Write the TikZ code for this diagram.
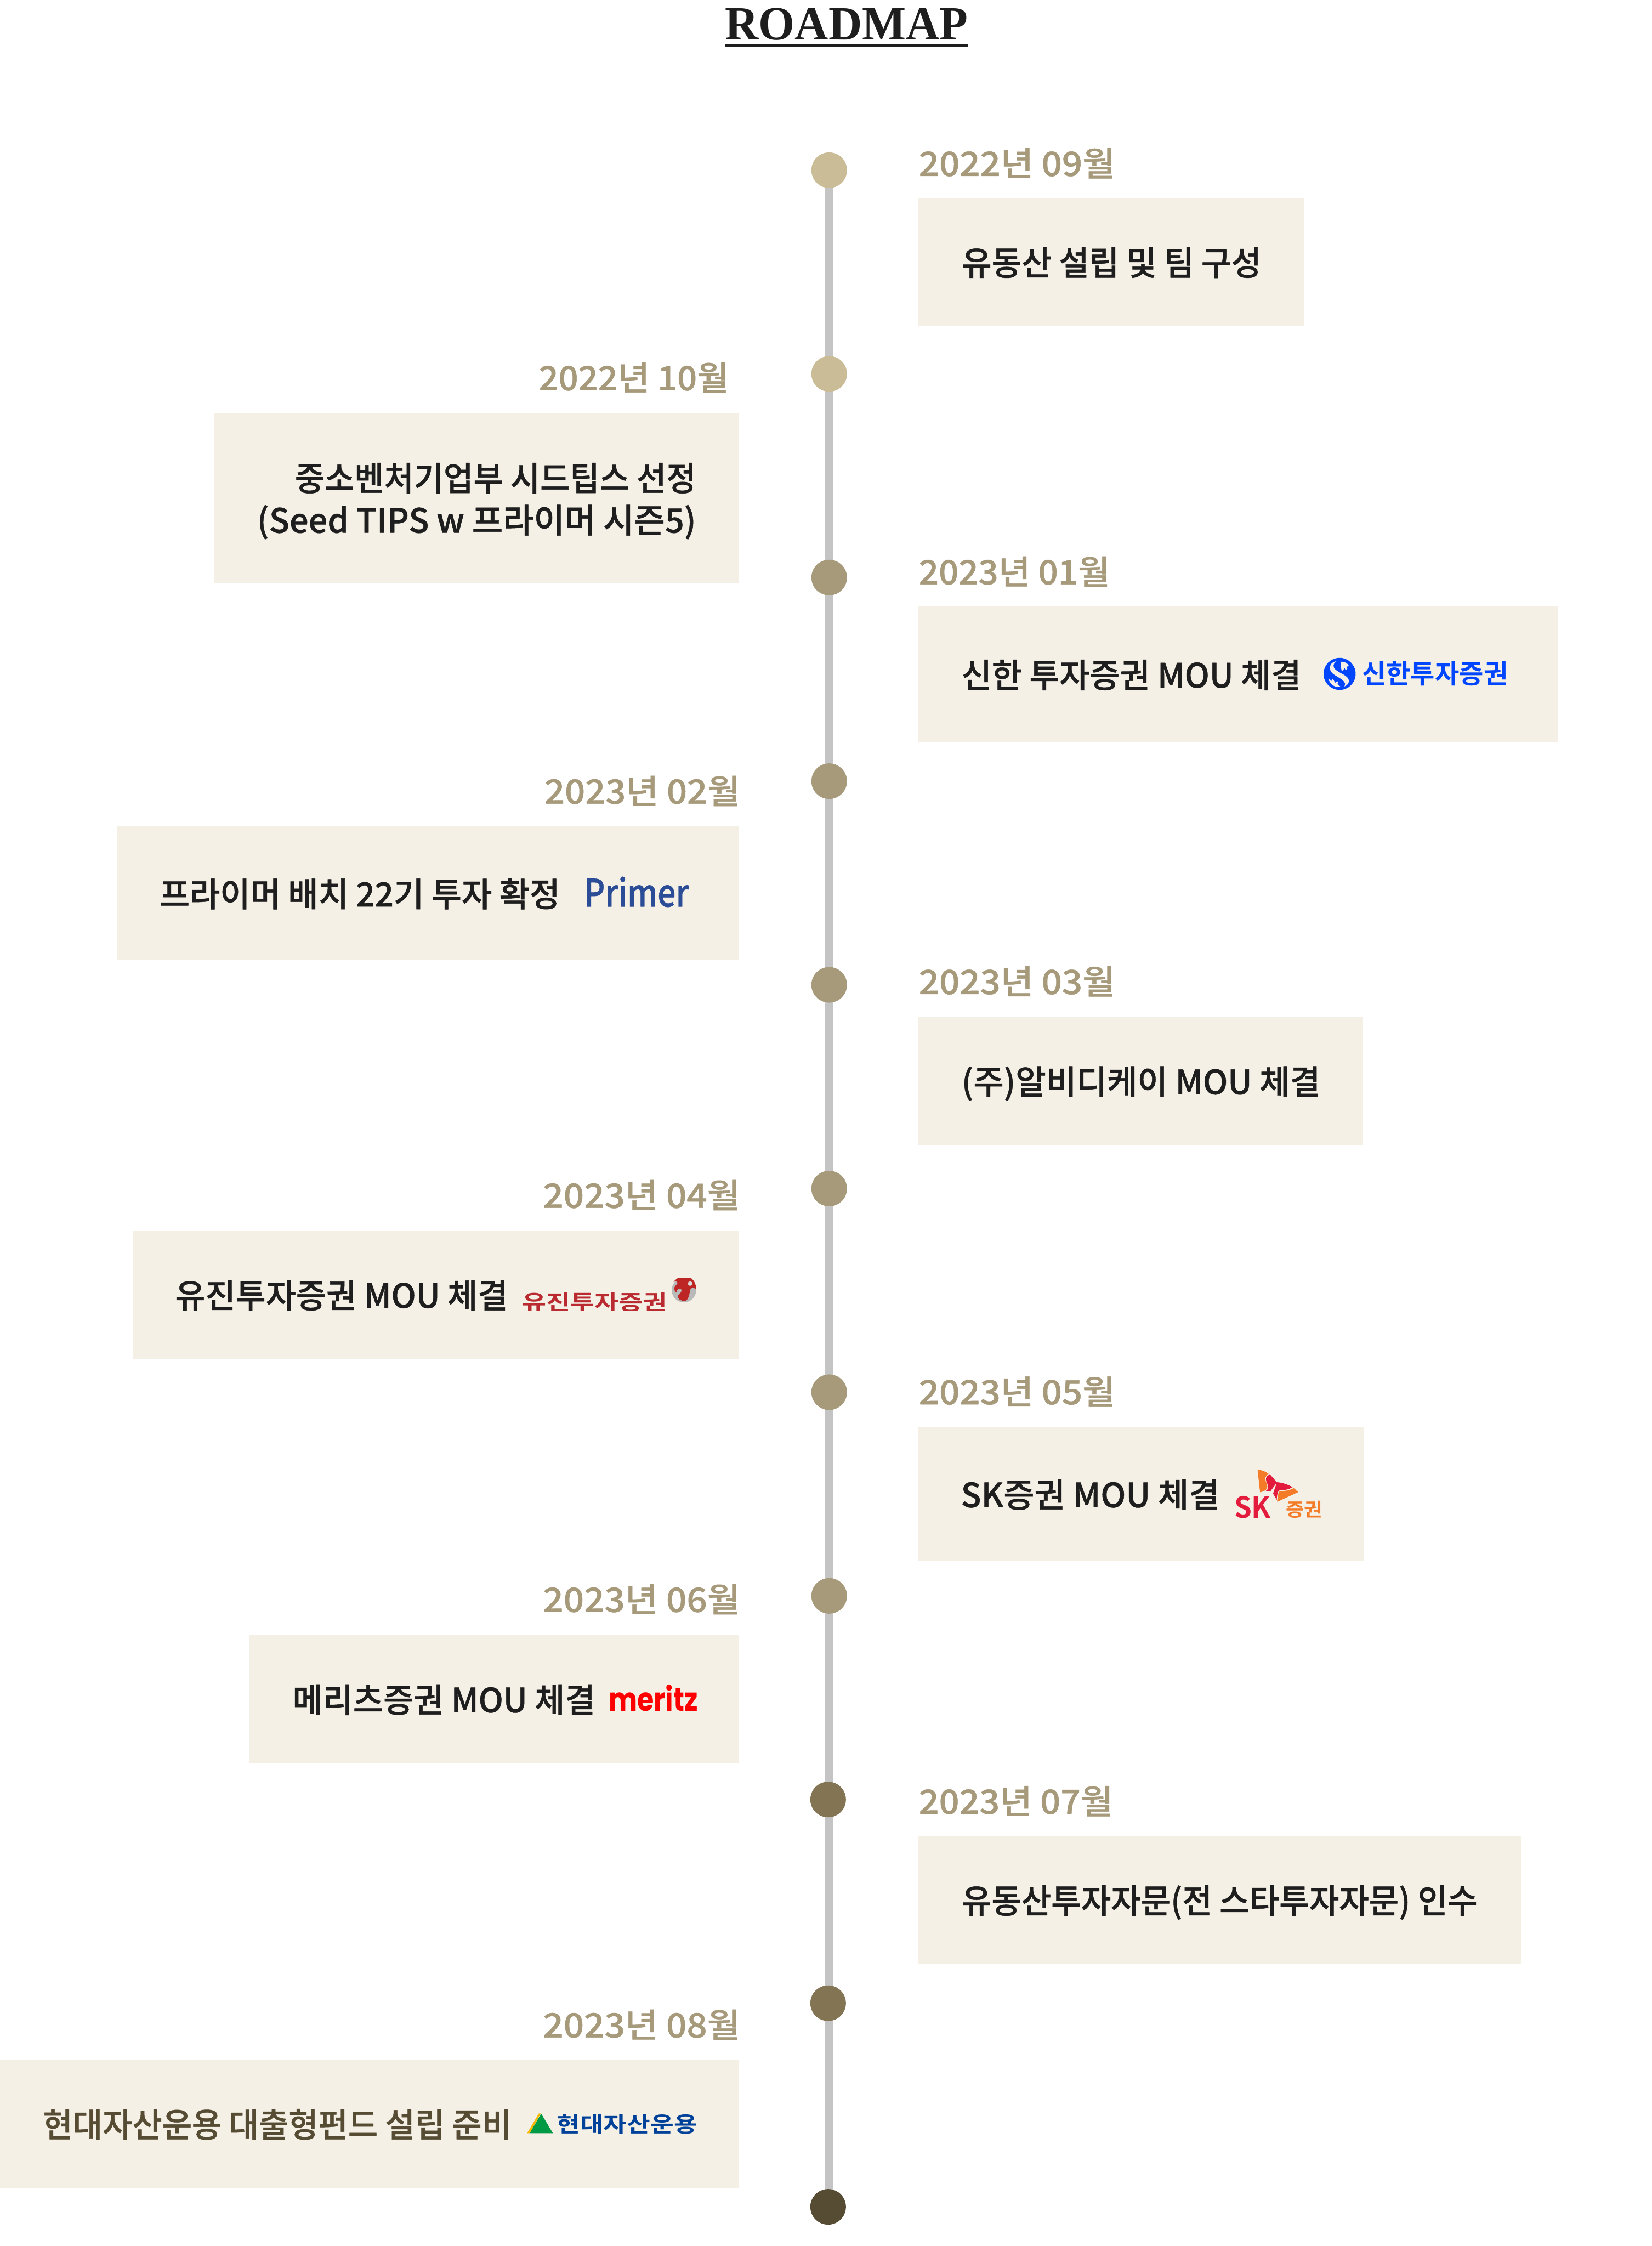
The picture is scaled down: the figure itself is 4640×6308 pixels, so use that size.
\documentclass[tikz,border=0pt]{standalone}
\usepackage{fontspec}
\usepackage{graphicx}
\newfontfamily\krm{Noto Sans CJK KR Medium}[FakeBold=0.8]
\newfontfamily\krb{Noto Sans CJK KR}[BoldFont={Noto Sans CJK KR Bold}]
\newfontfamily\ttl{Liberation Serif}
\newfontfamily\mrz{Poppins}
\definecolor{boxbg}{HTML}{F4F0E6}
\definecolor{datec}{HTML}{A69A7B}
\definecolor{inkc}{HTML}{1E1E1E}
\definecolor{lastc}{HTML}{564B33}
\definecolor{dotA}{HTML}{CBBC98}
\definecolor{dotB}{HTML}{A69A7B}
\definecolor{dotC}{HTML}{837553}
\definecolor{linec}{HTML}{C4C4C4}
\definecolor{shb}{HTML}{0046FF}
\definecolor{prb}{HTML}{2B4C96}
\definecolor{yjr}{HTML}{B92B30}
\definecolor{skr}{HTML}{E31B3C}
\definecolor{sko}{HTML}{F47B27}
\definecolor{hdb}{HTML}{00419A}
\definecolor{hdg}{HTML}{009A44}
\definecolor{hdy}{HTML}{F5B800}
\newcommand{\fitw}[2]{\resizebox{\dimexpr #1\dimexpr.25pt\relax\relax}{\height}{#2}}
\newcommand{\fs}[1]{\fontsize{\dimexpr #1\dimexpr.25pt\relax\relax}{\dimexpr #1\dimexpr.3pt\relax\relax}\selectfont}
\tikzset{
  boxfill/.style={fill=boxbg},
  dotn/.style={circle,inner sep=0pt,minimum size=25pt,fill=#1},
  txtL/.style={inner sep=0pt,anchor=base west,text=inkc,font=\krm\fs{94}},
  txtR/.style={inner sep=0pt,anchor=base east,text=inkc,font=\krm\fs{94}},
  dateL/.style={inner sep=0pt,anchor=base west,text=datec,font=\krm\fs{94}},
  dateR/.style={inner sep=0pt,anchor=base east,text=datec,font=\krm\fs{94}},
  logo/.style={inner sep=0pt,anchor=base west},
  spine/.style={draw=linec,line width=6pt}
}
\begin{document}
\begin{tikzpicture}[x=0.25pt,y=-0.25pt]
\useasboundingbox (0,0) rectangle (4640,6308);
\fill[white] (0,0) rectangle (4640,6308);
% title
\node[inner sep=0pt,anchor=base west,text=inkc,font=\ttl\bfseries\fs{134}] (title) at (2036,111) {\fitw{682}{ROADMAP}};
\fill[inkc] (2036,124) rectangle (2718,131);
% timeline
\coordinate (spinex) at (2328,0);
\foreach \n/\xx/\yy/\cc in {1/2329/478/dotA,2/2329/1050/dotA,3/2329/1622/dotB,4/2329/2194/dotB,5/2329/2766/dotB,6/2329/3338/dotB,7/2329/3910/dotB,8/2329/4482/dotB,9/2326/5054/dotC,10/2326/5626/dotC,11/2326/6198/lastc}
  \path[spine,draw=none] (\xx,\yy) coordinate (c\n);
\foreach \a/\b in {1/2,2/3,3/4,4/5,5/6,6/7,7/8,8/9,9/10,10/11}
  \draw[spine] (spinex |- c\a) -- (spinex |- c\b);
\foreach \n/\cc in {1/dotA,2/dotA,3/dotB,4/dotB,5/dotB,6/dotB,7/dotB,8/dotB,9/dotC,10/dotC,11/lastc}
  \node[dotn=\cc] (d\n) at (c\n) {};
% boxes
\fill[boxfill] (2580,556) rectangle (3664,914);
\fill[boxfill] (600,1159) rectangle (2076,1639);
\fill[boxfill] (2580,1704) rectangle (4375,2084);
\fill[boxfill] (328,2320) rectangle (2076,2696);
\fill[boxfill] (2580,2857) rectangle (3829,3215);
\fill[boxfill] (372,3457) rectangle (2076,3816);
\fill[boxfill] (2580,4008) rectangle (3831,4383);
\fill[boxfill] (700,4592) rectangle (2076,4951);
\fill[boxfill] (2580,5157) rectangle (4272,5517);
\fill[boxfill] (0,5786) rectangle (2076,6145);
% dates
\node[dateL] (date1) at (2580,494) {\fitw{552}{2022년 09월}};
\node[dateR] (date2) at (2048,1096) {\fitw{534}{2022년 10월}};
\node[dateL] (date3) at (2580,1641) {\fitw{537}{2023년 01월}};
\node[dateR] (date4) at (2080,2257) {\fitw{550}{2023년 02월}};
\node[dateL] (date5) at (2580,2792) {\fitw{552}{2023년 03월}};
\node[dateR] (date6) at (2080,3392) {\fitw{554}{2023년 04월}};
\node[dateL] (date7) at (2580,3944) {\fitw{552}{2023년 05월}};
\node[dateR] (date8) at (2080,4527) {\fitw{554}{2023년 06월}};
\node[dateL] (date9) at (2580,5094) {\fitw{546}{2023년 07월}};
\node[dateR] (date10) at (2080,5722) {\fitw{554}{2023년 08월}};
% box texts
\node[txtL] (t1) at (2700,773) {\fitw{842}{유동산 설립 및 팀 구성}};
\node[txtR] (t2a) at (1956,1378) {\fitw{1127}{중소벤처기업부 시드팁스 선정}};
\node[txtR] (t2b) at (1956,1496) {\fitw{1233}{(Seed TIPS w 프라이머 시즌5)}};
\node[txtL] (t3) at (2700,1931) {\fitw{954}{신한 투자증권 MOU 체결}};
\node[txtL] (t4) at (447,2546) {\fitw{1125}{프라이머 배치 22기 투자 확정}};
\node[txtL] (t5) at (2700,3073) {\fitw{1008}{(주)알비디케이 MOU 체결}};
\node[txtL] (t6) at (491,3673) {\fitw{935}{유진투자증권 MOU 체결}};
\node[txtL] (t7) at (2698,4233) {\fitw{727}{SK증권 MOU 체결}};
\node[txtL] (t8) at (821,4809) {\fitw{850}{메리츠증권 MOU 체결}};
\node[txtL] (t9) at (2700,5373) {\fitw{1449}{유동산투자자문(전 스타투자자문) 인수}};
\node[txtL,text=lastc] (t10) at (120,6002) {\fitw{1316}{현대자산운용 대출형펀드 설립 준비}};
% Shinhan logo
\begin{scope}[shift={(3690,1820)},x=0.08333pt,y=-0.08333pt]
  \fill[shb] (218,218) circle [radius=135];
  \fill[boxbg] (192,111) .. controls (150,118) and (128,150) .. (137,180)
    .. controls (150,235) and (250,250) .. (265,300) .. controls (266,310) and (262,318) .. (257,324)
    .. controls (290,312) and (305,285) .. (292,260) .. controls (270,220) and (190,205) .. (170,165)
    .. controls (160,140) and (175,122) .. (192,111) -- cycle;
  \fill[boxbg] (223,116) .. controls (250,112) and (285,125) .. (297,152) -- (270,160)
    .. controls (285,170) and (290,178) .. (268,184) .. controls (262,170) and (258,165) .. (254,158)
    .. controls (258,180) and (250,192) .. (235,190) .. controls (225,165) and (240,140) .. (223,116) -- cycle;
  \fill[boxbg] (124,256) -- (152,278) -- (160,259) -- (180,292) -- (205,280) -- (200,305) -- (226,326)
    .. controls (180,335) and (135,310) .. (124,256) -- cycle;
\end{scope}
\node[logo,text=shb,font=\krb\bfseries\fs{74}] (shlogo) at (3825,1919) {\fitw{410}{신한투자증권}};
% Primer logo
\node[logo,text=prb,font=\krm\fs{106}] (prlogo) at (1640,2546) {\fitw{294}{Primer}};
% Yujin logo
\begin{scope}
  \clip (1460,3600) rectangle (1880,3682);
  \node[logo,text=yjr,font=\krb\bfseries\fs{60}] (yjlogo) at (1466,3680) {\fitw{407}{유진투자증권}};
\end{scope}
\begin{scope}[shift={(1870,3570)},x=0.08333pt,y=-0.08333pt]
  \clip (0,60) rectangle (300,300);
  \fill[gray!55!white] (153,160) circle [radius=103];
  \fill[red!70!black!85!white] (100,60) -- (215,60) .. controls (240,80) and (255,110) .. (258,160)
    .. controls (245,135) and (215,130) .. (205,160) .. controls (198,190) and (200,225) .. (170,248)
    .. controls (130,255) and (95,235) .. (102,205) .. controls (115,190) and (140,175) .. (132,155)
    .. controls (118,135) and (88,150) .. (92,182) .. controls (70,170) and (65,140) .. (80,125)
    .. controls (100,105) and (105,95) .. (95,88) .. controls (88,85) and (75,85) .. (65,92)
    .. controls (75,80) and (85,68) .. (100,60) -- cycle;
  \fill[gray!30!white] (205,105) circle [radius=19];
\end{scope}
% SK logo
\begin{scope}
  \clip (3450,4190) rectangle (3730,4263);
  \node[logo,text=skr,font=\krb\bfseries\fs{82}] (sklogo) at (3466,4263) {\fitw{103}{SK}};
  \node[logo,text=sko,font=\krb\bfseries\fs{52}] (skname) at (3611,4259) {\fitw{103}{증권}};
\end{scope}
\begin{scope}[shift={(3300,4050)},x=0.08333pt,y=-0.08333pt]
  \fill[sko] (697,234) .. controls (730,234) and (770,250) .. (792,270)
    .. controls (760,280) and (755,310) .. (770,340) .. controls (790,380) and (780,410) .. (718,423) -- cycle;
  \fill[skr] (803,275) -- (860,340) -- (803,417) -- (765,414)
    .. controls (790,400) and (790,370) .. (772,335) .. controls (760,310) and (770,280) .. (803,275) -- cycle;
  \fill[skr] (860,338) .. controls (910,342) and (955,360) .. (992,380)
    .. controls (950,405) and (910,405) .. (880,408) .. controls (865,415) and (860,450) .. (858,488)
    -- (828,433) -- cycle;
  \fill[sko] (1002,388) -- (1038,422) -- (864,503) .. controls (860,503) and (860,500) .. (862,490)
    .. controls (868,450) and (870,420) .. (885,413) .. controls (930,415) and (970,405) .. (1002,388) -- cycle;
\end{scope}
% Meritz logo
\begin{scope}
  \clip (1700,4650) rectangle (1970,4806);
  \node[logo,text=red,font=\mrz\bfseries\fs{92}] (mzlogo) at (1709,4806) {\fitw{250}{meritz}};
\end{scope}
% Hyundai logo
\begin{scope}[shift={(1400,5850)},x=0.15944pt,y=-0.08333pt]
  \fill[hdy] (126,424) -- (178,258) -- (186,258) -- (138,424) -- cycle;
  \fill[hdg] (138,424) -- (188,258) -- (240,424) -- cycle;
\end{scope}
\begin{scope}
  \clip (1550,5900) rectangle (1970,5992);
  \node[logo,text=hdb,font=\krb\bfseries\fs{60}] (hdlogo) at (1563,5988) {\fitw{395}{현대자산운용}};
\end{scope}
\end{tikzpicture}
\end{document}
